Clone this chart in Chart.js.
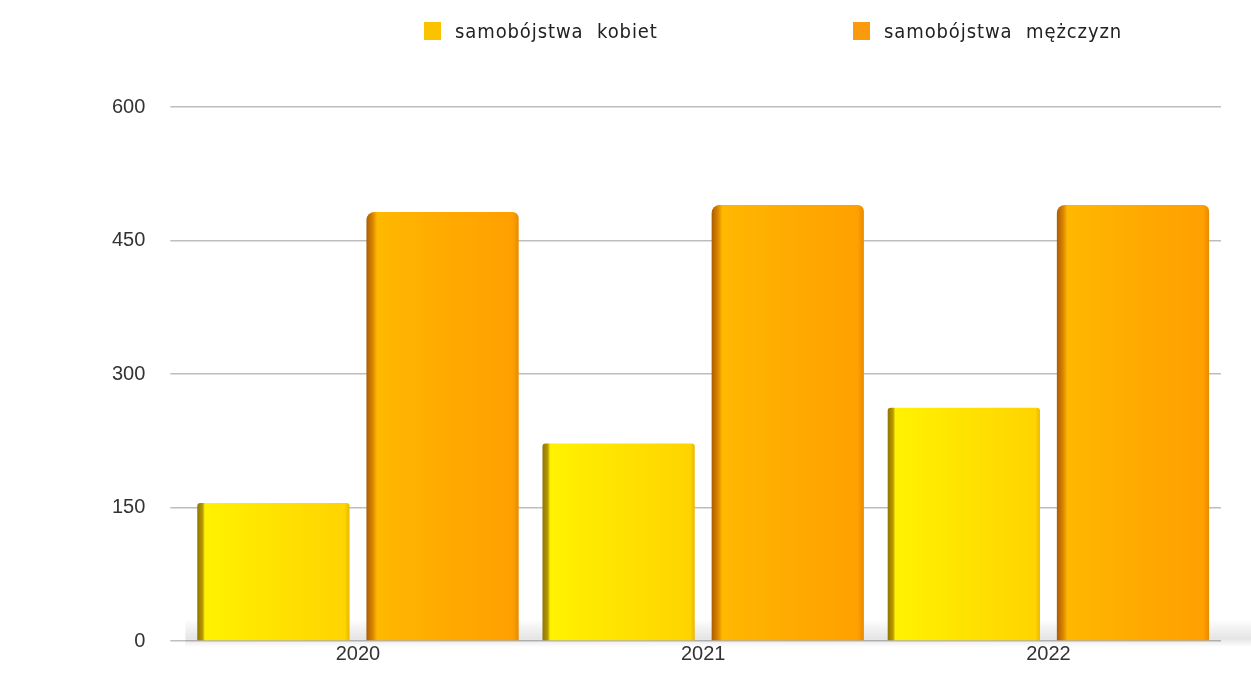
<!DOCTYPE html>
<html>
<head>
<meta charset="utf-8">
<script src="https://cdn.jsdelivr.net/npm/chart.js@4"></script>
<style>
    html, body { margin: 0; padding: 0; background: #fff; }
    #wrap { position: relative; width: 1251px; height: 678px; }
    #legend { position: absolute; left: 0; top: 0; width: 100%; height: 60px; }
    .item { position: absolute; top: 19px; display: flex; align-items: center;
        font-family: "DejaVu Sans Condensed", "DejaVu Sans", sans-serif; font-size: 20px;
        color: #222; letter-spacing: 0.9px; word-spacing: 7px; }
    .item span.box { width: 17px; height: 18px; margin-right: 14px; display: inline-block; }
</style>
</head>
<body>
<div id="wrap">
    <canvas id="chart" width="1251" height="678"></canvas>
    <div id="legend"></div>
</div>
<script>
const years = ['2020', '2021', '2022'];
const seriesNames = ['samobójstwa kobiet', 'samobójstwa mężczyzn'];
const women = [155, 222, 262];
const men = [482, 490, 490];
const yTicks = [0, 150, 300, 450, 600];

const legendColors = ['#fbc200', '#fb9a0a'];
const legendLeft = [424, 853];

const legend = document.getElementById('legend');
seriesNames.forEach((name, i) => {
    const div = document.createElement('div');
    div.className = 'item';
    div.style.left = legendLeft[i] + 'px';
    div.innerHTML = `<span class="box" style="background:${legendColors[i]}"></span>${name}`;
    legend.appendChild(div);
});

const catPct = 0.98;
const barPct = 0.9;

// horizontal shading per bar, with a dark strip for the side face
const stops = [
    [[0, '#8f7400'], [0.035, '#b89a00'], [0.05, '#fff200'], [0.5, '#ffe300'], [0.97, '#ffd400'], [1, '#e8b800']],
    [[0, '#a85e00'], [0.04, '#d98300'], [0.07, '#ffb800'], [0.5, '#ffab00'], [0.96, '#ffa000'], [1, '#e88a00']]
];

function shade(ctx) {
    const chart = ctx.chart;
    const xs = chart.scales.x;
    if (!chart.chartArea || !xs) return stops[ctx.datasetIndex][2][1];
    const cat = xs.width / years.length;
    const slot = cat * catPct / 2;
    const w = slot * barPct;
    const center = xs.getPixelForValue(ctx.dataIndex) + (ctx.datasetIndex === 0 ? -slot / 2 : slot / 2);
    const g = chart.ctx.createLinearGradient(center - w / 2, 0, center + w / 2, 0);
    stops[ctx.datasetIndex].forEach(s => g.addColorStop(s[0], s[1]));
    return g;
}

const floorShadow = {
    id: 'floorShadow',
    beforeDatasetsDraw(chart) {
        const { ctx, chartArea } = chart;
        const g = ctx.createLinearGradient(0, chartArea.bottom - 22, 0, chartArea.bottom + 6);
        g.addColorStop(0, 'rgba(0,0,0,0)');
        g.addColorStop(0.7, 'rgba(0,0,0,0.10)');
        g.addColorStop(1, 'rgba(0,0,0,0)');
        ctx.save();
        ctx.fillStyle = g;
        ctx.fillRect(chartArea.left, chartArea.bottom - 22, chart.width - chartArea.left, 28);
        ctx.restore();
    }
};

new Chart(document.getElementById('chart'), {
    type: 'bar',
    data: {
        labels: years,
        datasets: [{
            label: seriesNames[0],
            data: women,
            backgroundColor: shade,
            borderRadius: { topLeft: 3, topRight: 3 },
            borderSkipped: false,
            categoryPercentage: catPct,
            barPercentage: barPct
        }, {
            label: seriesNames[1],
            data: men,
            backgroundColor: shade,
            borderRadius: { topLeft: 8, topRight: 6 },
            borderSkipped: false,
            categoryPercentage: catPct,
            barPercentage: barPct
        }]
    },
    options: {
        responsive: false,
        animation: false,
        devicePixelRatio: 1,
        layout: { padding: { top: 107, left: 87, right: 30, bottom: 0 } },
        plugins: {
            legend: { display: false },
            tooltip: { enabled: false }
        },
        scales: {
            x: {
                grid: { display: false, drawTicks: false },
                border: { display: false },
                ticks: {
                    padding: 1,
                    color: '#333',
                    font: { family: 'Liberation Sans', size: 20 }
                }
            },
            y: {
                min: 0,
                max: 600,
                afterBuildTicks: axis => { axis.ticks = yTicks.map(v => ({ value: v })); },
                border: { display: false },
                grid: {
                    color: '#bdbdbd',
                    lineWidth: 1.5,
                    drawTicks: true,
                    tickLength: 15,
                    tickColor: '#bdbdbd'
                },
                ticks: {
                    padding: 25,
                    color: '#333',
                    font: { family: 'Liberation Sans', size: 20 }
                }
            }
        }
    },
    plugins: [floorShadow]
});
</script>
</body>
</html>
